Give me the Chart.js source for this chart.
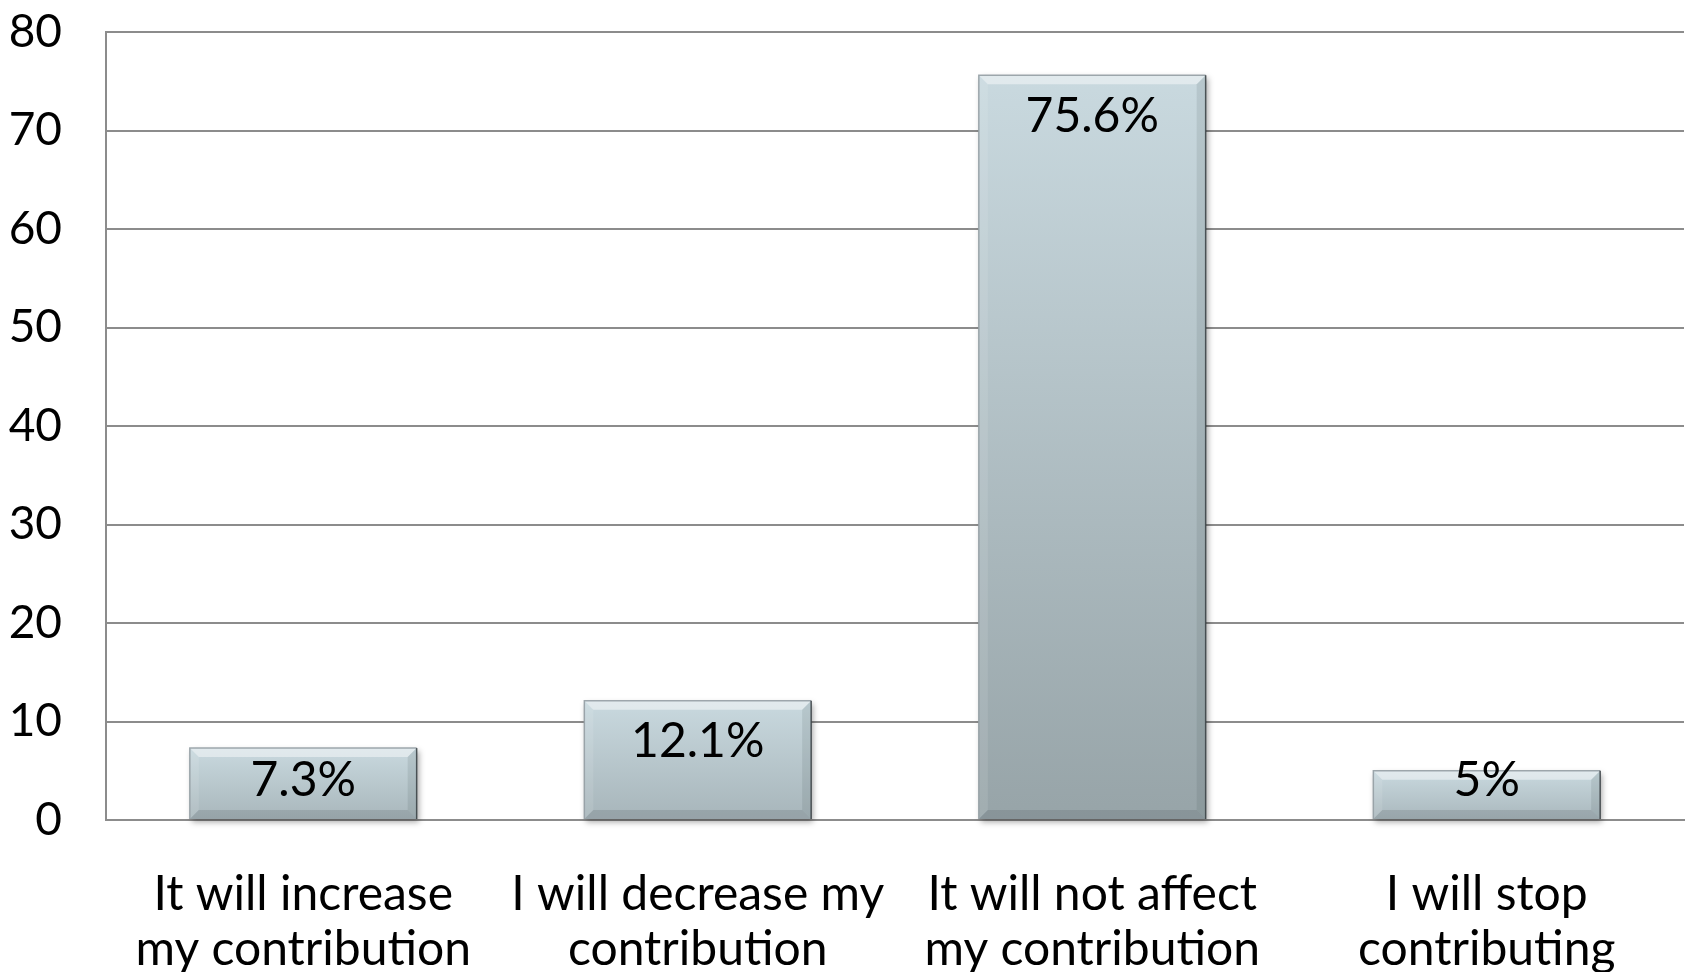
<!DOCTYPE html>
<html>
<head>
<meta charset="utf-8">
<script src="https://cdn.jsdelivr.net/npm/chart.js@4/dist/chart.umd.min.js"></script>
<style>
  html, body { margin: 0; padding: 0; background: #ffffff; }
  #wrap { width: 1685px; height: 972px; position: relative; }
</style>
</head>
<body>
<div id="wrap"><canvas id="chart" width="1685" height="972"></canvas></div>
<script>
// Survey answers and their shares (percent)
const categories = [
  ['It will increase', 'my contribution'],
  ['I will decrease my', 'contribution'],
  ['It will not affect', 'my contribution'],
  ['I will stop', 'contributing']
];
const shares = [7.3, 12.1, 75.6, 5];
const yTicks = [0, 10, 20, 30, 40, 50, 60, 70, 80];

const FONT = 'Lato, "Open Sans", "DejaVu Sans", sans-serif';

// Vertical gradient for each bar, slightly darker at the foot of taller bars
function barFill(c) {
  const chart = c.chart;
  if (!chart.chartArea || c.raw === undefined) return '#b6c5cb';
  const y = chart.scales.y;
  const top = y.getPixelForValue(c.raw);
  const bot = y.getPixelForValue(0);
  const frac = Math.min(1, (bot - top) / (chart.chartArea.bottom - chart.chartArea.top));
  const g = chart.ctx.createLinearGradient(0, top, 0, bot);
  g.addColorStop(0, '#c9d9df');
  const r = Math.round(170 - 20 * frac), gg = Math.round(184 - 21 * frac), b = Math.round(189 - 22 * frac);
  g.addColorStop(1, `rgb(${r},${gg},${b})`);
  return g;
}

// Soft drop shadow behind the bars and a bevelled edge on top of them
const bevelPlugin = {
  id: 'bevel',
  beforeDatasetsDraw(chart) {
    const ctx = chart.ctx;
    const meta = chart.getDatasetMeta(0);
    ctx.save();
    meta.data.forEach(el => {
      const l = el.x - el.width / 2, t = el.y, w = el.width, h = el.base - el.y;
      ctx.shadowColor = 'rgba(0,0,0,0.35)';
      ctx.shadowBlur = 6;
      ctx.shadowOffsetX = 2;
      ctx.shadowOffsetY = 3;
      ctx.fillStyle = '#9aa6aa';
      ctx.fillRect(l, t, w, h);
    });
    ctx.restore();
  },
  afterDatasetsDraw(chart) {
    const ctx = chart.ctx;
    const meta = chart.getDatasetMeta(0);
    const b = 9;
    ctx.save();
    meta.data.forEach(el => {
      const l = el.x - el.width / 2, r = el.x + el.width / 2, t = el.y, bot = el.base;
      const poly = (pts, fill) => {
        ctx.beginPath();
        ctx.moveTo(pts[0][0], pts[0][1]);
        for (let i = 1; i < pts.length; i++) ctx.lineTo(pts[i][0], pts[i][1]);
        ctx.closePath();
        ctx.fillStyle = fill;
        ctx.fill();
      };
      poly([[l, t], [r, t], [r - b, t + b], [l + b, t + b]], 'rgba(255,255,255,0.45)');
      poly([[l, t], [l + b, t + b], [l + b, bot - b], [l, bot]], 'rgba(255,255,255,0.10)');
      poly([[r, t], [r, bot], [r - b, bot - b], [r - b, t + b]], 'rgba(60,70,75,0.12)');
      poly([[l, bot], [r, bot], [r - b, bot - b], [l + b, bot - b]], 'rgba(60,70,75,0.16)');
      ctx.lineWidth = 1.5;
      ctx.strokeStyle = 'rgba(150,160,165,0.9)';
      ctx.beginPath();
      ctx.moveTo(l, bot); ctx.lineTo(l, t); ctx.lineTo(r, t);
      ctx.stroke();
      ctx.strokeStyle = 'rgba(55,62,66,0.85)';
      ctx.beginPath();
      ctx.moveTo(r, t); ctx.lineTo(r, bot);
      ctx.stroke();
    });
    ctx.restore();
  }
};

// Value labels placed just inside the top of each bar
const valueLabels = {
  id: 'valueLabels',
  afterDatasetsDraw(chart) {
    const ctx = chart.ctx;
    const meta = chart.getDatasetMeta(0);
    ctx.save();
    ctx.font = `48px ${FONT}`;
    ctx.fillStyle = '#000000';
    ctx.textAlign = 'center';
    ctx.textBaseline = 'middle';
    meta.data.forEach((el, i) => {
      const y = Math.min(el.y + 41, el.base - 38);
      ctx.fillText(shares[i] + '%', el.x, y);
    });
    ctx.restore();
  }
};

new Chart(document.getElementById('chart'), {
  type: 'bar',
  data: {
    labels: categories,
    datasets: [{
      data: shares,
      backgroundColor: barFill,
      borderWidth: 0,
      categoryPercentage: 1,
      barPercentage: 0.575
    }]
  },
  options: {
    responsive: false,
    animation: false,
    devicePixelRatio: 1,
    layout: { padding: { top: 32, right: 1, left: 0, bottom: 0 } },
    plugins: { legend: { display: false }, tooltip: { enabled: false } },
    scales: {
      x: {
        grid: { display: false, drawTicks: false },
        border: { display: true, color: '#8c8c8c', width: 2 },
        ticks: {
          color: '#000000',
          font: { family: FONT, size: 48, lineHeight: 1.15 },
          padding: 47,
          maxRotation: 0,
          autoSkip: false
        },
        afterFit(scale) { scale.height = 152; scale.paddingLeft = 0; scale.paddingRight = 0; }
      },
      y: {
        min: 0,
        max: 80,
        afterBuildTicks(scale) { scale.ticks = yTicks.map(v => ({ value: v })); },
        grid: { color: '#8c8c8c', lineWidth: 2, drawTicks: false },
        border: { display: true, color: '#8c8c8c', width: 2 },
        ticks: {
          color: '#000000',
          font: { family: FONT, size: 46 },
          padding: 44
        },
        afterFit(scale) { scale.width = 106; scale.paddingTop = 0; scale.paddingBottom = 0; }
      }
    }
  },
  plugins: [bevelPlugin, valueLabels]
});
</script>
</body>
</html>
